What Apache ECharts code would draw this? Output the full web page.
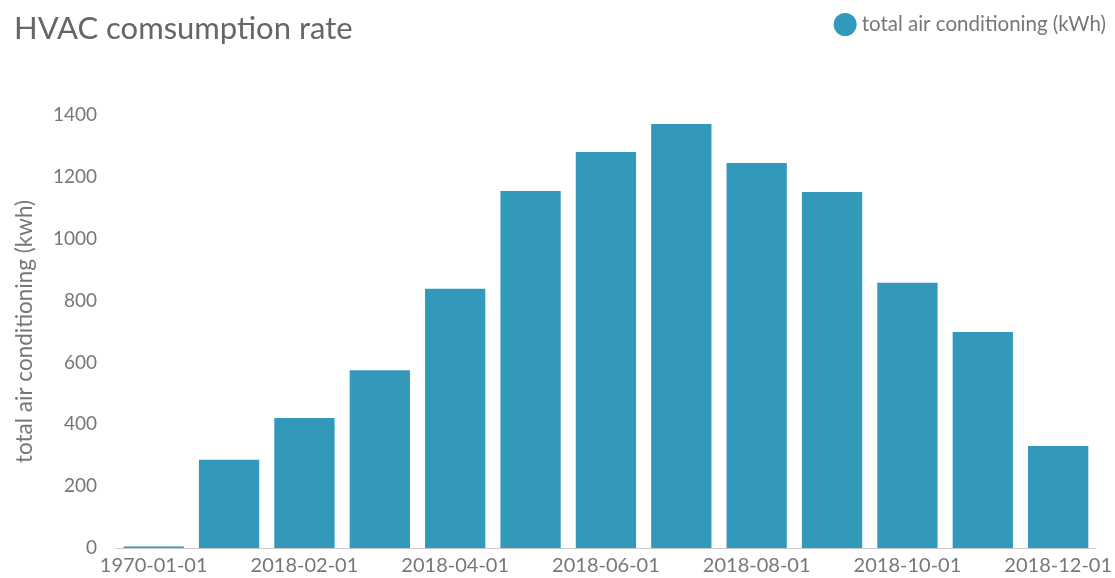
<!DOCTYPE html>
<html>
<head>
<meta charset="utf-8">
<script src="https://cdn.jsdelivr.net/npm/echarts@6/dist/echarts.min.js"></script>
<style>
  html, body { margin: 0; padding: 0; background: #fff; }
  #hvacChart { width: 1115px; height: 578px; }
</style>
</head>
<body>
<div id="hvacChart"></div>
<script>
// months as they come out of the data (first one is an epoch placeholder)
const months = ['1970-01-01', '2018-01-01', '2018-02-01', '2018-03-01', '2018-04-01', '2018-05-01',
    '2018-06-01', '2018-07-01', '2018-08-01', '2018-09-01', '2018-10-01', '2018-11-01', '2018-12-01'];
const acKwh = [5, 285, 420, 575, 838, 1154, 1280, 1371, 1245, 1151, 858, 698, 330];
const seriesName = 'total air conditioning (kWh)';

let hvacChart = echarts.init(document.getElementById('hvacChart'));

let option = {
    textStyle: { fontFamily: 'Lato' },
    title: {
        text: 'HVAC comsumption rate',
        left: 9,
        top: 8,
        textStyle: { fontSize: 31, fontWeight: 'normal', color: '#666', fontFamily: 'Lato' }
    },
    legend: {
        right: 4,
        top: 8,
        icon: 'circle',
        itemWidth: 23,
        itemHeight: 23,
        itemGap: 6,
        textStyle: { fontSize: 20.5, color: '#777', fontFamily: 'Lato' },
        data: [seriesName]
    },
    grid: {
        left: 116,
        right: 19,
        top: 115,
        bottom: 30
    },
    xAxis: {
        type: 'category',
        data: months,
        axisTick: { show: false },
        axisLine: { lineStyle: { color: '#ccc' } },
        axisLabel: {
            interval: 1,
            margin: 8,
            fontSize: 20,
            color: '#777'
        }
    },
    yAxis: {
        type: 'value',
        min: 0,
        max: 1400,
        interval: 200,
        name: 'total air conditioning (kwh)',
        nameLocation: 'middle',
        nameGap: 80,
        nameTextStyle: { fontSize: 22.5, color: '#777' },
        splitLine: { show: false },
        axisLine: { show: false },
        axisTick: { show: false },
        axisLabel: {
            fontSize: 19,
            color: '#777',
            margin: 19,
            formatter: v => String(v)
        }
    },
    series: [
        {
            name: seriesName,
            type: 'bar',
            data: acKwh,
            barCategoryGap: '20%',
            itemStyle: { color: '#3399bb' }
        }
    ]
};

hvacChart.setOption(option);
</script>
</body>
</html>
